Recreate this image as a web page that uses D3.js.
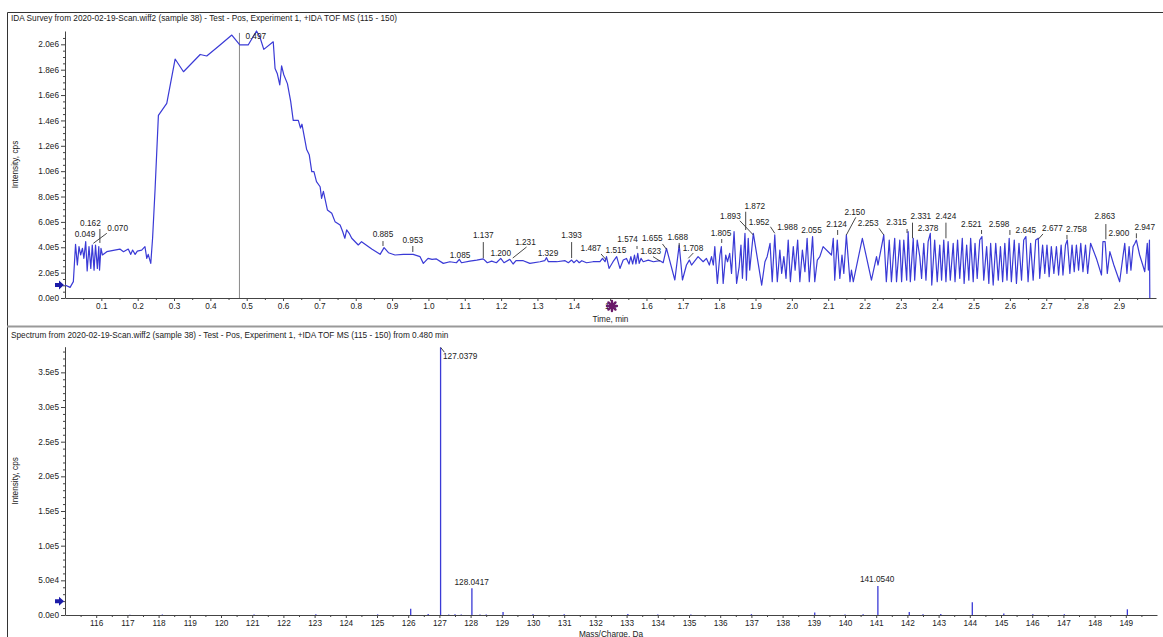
<!DOCTYPE html>
<html><head><meta charset="utf-8">
<script src="https://cdn.jsdelivr.net/npm/d3@7"></script>
<style>
body{margin:0;background:#fff;}
svg text{font-family:"Liberation Sans",Arial,sans-serif;}
</style></head>
<body>
<svg id="chart" width="1163" height="637"></svg>
<script>
// ---------- DATA ----------
const ticTitle = "IDA Survey from 2020-02-19-Scan.wiff2 (sample 38) - Test - Pos, Experiment 1, +IDA TOF MS (115 - 150)";
const specTitle = "Spectrum from 2020-02-19-Scan.wiff2 (sample 38) - Test - Pos, Experiment 1, +IDA TOF MS (115 - 150) from 0.480 min";

const timeMin = [0.000,0.014,0.023,0.029,0.034,0.0385,0.043,0.048,0.052,0.057,0.061,0.066,0.071,0.075,0.080,0.084,0.089,0.093,0.095,0.099,
0.103,0.115,0.151,0.161,0.174,0.181,0.186,0.193,0.199,0.211,0.220,0.225,0.229,0.236,0.241,0.248,0.257,0.280,0.303,0.326,
0.372,0.390,0.425,0.459,0.481,0.504,0.527,0.536,0.547,0.573,0.578,0.584,0.591,0.596,0.602,0.612,0.621,0.628,0.642,0.648,
0.652,0.665,0.672,0.679,0.685,0.692,0.702,0.706,0.711,0.722,0.734,0.743,0.757,0.764,0.770,0.775,0.782,0.789,0.807,0.816,
0.844,0.867,0.878,0.890,0.908,0.931,0.958,0.977,0.986,0.999,1.010,1.022,1.041,1.059,1.077,1.085,1.091,1.114,1.133,1.151,
1.162,1.174,1.187,1.199,1.208,1.224,1.233,1.241,1.261,1.279,1.307,1.320,1.325,1.330,1.353,1.376,1.385,1.394,1.400,1.408,
1.415,1.422,1.435,1.453,1.472,1.479,1.486,1.490,1.497,1.508,1.518,1.527,1.536,1.545,1.552,1.557,1.562,1.567,1.571,1.576,
1.580,1.585,1.591,1.605,1.619,1.637,1.646,1.655,1.678,1.690,1.699,1.710,1.718,1.724,1.742,1.756,1.765,1.773,1.779,1.784,
1.788,1.795,1.802,1.806,1.811,1.818,1.823,1.829,1.834,1.841,1.848,1.855,1.860,1.864,1.871,1.875,1.880,1.884,1.894,1.917,
1.926,1.932,1.940,1.946,1.953,1.960,1.967,1.972,1.978,1.984,1.990,1.996,2.004,2.009,2.016,2.022,2.029,2.036,2.042,2.048,
2.057,2.063,2.070,2.077,2.086,2.109,2.114,2.118,2.125,2.132,2.138,2.143,2.150,2.160,2.164,2.169,2.194,2.219,2.233,2.237,
2.253,2.260,2.268,2.274,2.283,2.288,2.297,2.302,2.308,2.316,2.320,2.326,2.334,2.338,2.345,2.352,2.357,2.363,2.369,2.375,
2.381,2.385,2.393,2.400,2.407,2.412,2.418,2.424,2.430,2.436,2.444,2.449,2.456,2.462,2.469,2.474,2.481,2.487,2.492,2.499,
2.504,2.510,2.517,2.523,2.528,2.536,2.542,2.547,2.554,2.561,2.568,2.574,2.580,2.586,2.592,2.598,2.604,2.612,2.618,2.625,
2.632,2.638,2.644,2.650,2.657,2.664,2.671,2.678,2.682,2.690,2.696,2.702,2.708,2.714,2.721,2.728,2.734,2.741,2.746,2.753,
2.758,2.765,2.771,2.777,2.783,2.789,2.795,2.801,2.808,2.814,2.822,2.838,2.852,2.856,2.862,2.868,2.875,2.886,2.902,2.911,
2.916,2.922,2.928,2.933,2.939,2.944,2.948,2.957,2.967,2.971,2.978,2.981,2.984,2.985];

const ticIntensity = [1.02e5,0.84e5,1.29e5,4.23e5,2.60e5,4.05e5,3.39e5,3.92e5,3.13e5,4.44e5,2.13e5,4.05e5,2.33e5,4.18e5,2.20e5,4.18e5,2.33e5,4.05e5,2.20e5,3.92e5,
3.39e5,3.65e5,3.86e5,3.65e5,3.86e5,3.44e5,3.78e5,3.44e5,3.70e5,3.78e5,4.05e5,3.13e5,3.44e5,2.73e5,4.71e5,8.65e5,14.4e5,15.35e5,18.84e5,17.84e5,
19.2e5,19.08e5,19.9e5,20.73e5,19.95e5,19.95e5,21.05e5,20.6e5,19.6e5,20.2e5,18.1e5,17.7e5,16.8e5,18.3e5,17.6e5,16.9e5,15.5e5,14.0e5,14.0e5,13.4e5,
13.7e5,11.7e5,11.3e5,9.96e5,9.96e5,9.17e5,8.77e5,7.86e5,8.4e5,6.94e5,6.68e5,6.02e5,5.76e5,5.24e5,4.71e5,5.37e5,5.1e5,4.71e5,4.18e5,4.44e5,
3.86e5,3.44e5,3.97e5,3.57e5,3.39e5,3.44e5,3.44e5,3.26e5,2.73e5,3.13e5,3.05e5,3.08e5,2.73e5,2.86e5,2.78e5,3.05e5,2.78e5,2.91e5,2.99e5,3.08e5,
2.78e5,2.91e5,2.78e5,3.12e5,2.78e5,3.05e5,2.68e5,2.94e5,2.94e5,2.73e5,2.86e5,2.94e5,3.18e5,2.86e5,2.86e5,2.94e5,2.78e5,2.99e5,2.78e5,2.99e5,
2.78e5,2.94e5,2.78e5,2.86e5,2.86e5,3.12e5,2.86e5,3.26e5,2.33e5,2.86e5,3.26e5,2.33e5,2.99e5,3.12e5,2.68e5,3.26e5,2.68e5,3.39e5,2.68e5,3.52e5,
2.73e5,3.12e5,2.86e5,2.99e5,2.86e5,2.94e5,2.78e5,3.92e5,1.42e5,4.18e5,1.42e5,2.60e5,2.99e5,2.60e5,3.26e5,2.86e5,3.12e5,2.60e5,3.26e5,2.60e5,
4.05e5,1.15e5,3.39e5,4.05e5,1.15e5,3.39e5,2.86e5,3.52e5,1.94e5,5.23e5,1.15e5,2.46e5,4.18e5,1.55e5,5.10e5,1.41e5,4.71e5,2.20e5,5.10e5,1.02e5,
2.86e5,3.26e5,4.31e5,1.28e5,4.97e5,1.28e5,3.78e5,1.94e5,3.26e5,1.55e5,4.57e5,1.28e5,4.05e5,2.20e5,4.57e5,1.28e5,3.78e5,2.07e5,4.71e5,1.28e5,
4.84e5,1.28e5,2.99e5,3.26e5,4.05e5,3.39e5,4.71e5,1.41e5,4.57e5,1.55e5,3.39e5,1.94e5,4.97e5,1.28e5,2.20e5,1.28e5,4.71e5,1.41e5,3.26e5,2.60e5,
4.97e5,1.28e5,4.57e5,1.28e5,4.71e5,1.28e5,4.57e5,1.28e5,4.57e5,1.41e5,5.23e5,1.28e5,4.71e5,1.41e5,4.57e5,3.26e5,1.55e5,4.31e5,1.41e5,4.44e5,
5.10e5,1.02e5,4.57e5,1.28e5,4.18e5,1.41e5,4.57e5,1.28e5,4.44e5,1.41e5,4.31e5,1.28e5,4.57e5,1.55e5,4.71e5,1.15e5,4.18e5,1.41e5,4.71e5,1.28e5,
4.31e5,1.55e5,4.57e5,4.84e5,1.41e5,4.05e5,1.15e5,4.31e5,1.02e5,4.31e5,1.41e5,4.05e5,1.28e5,4.31e5,1.41e5,4.71e5,1.28e5,4.57e5,1.15e5,4.31e5,
1.41e5,4.57e5,4.84e5,1.28e5,4.31e5,1.41e5,4.57e5,4.71e5,1.55e5,4.18e5,1.94e5,4.18e5,1.68e5,4.05e5,1.94e5,4.05e5,1.81e5,4.18e5,1.81e5,4.18e5,
4.57e5,1.94e5,4.18e5,2.07e5,4.18e5,2.20e5,4.31e5,2.07e5,4.18e5,1.94e5,4.31e5,3.12e5,1.81e5,4.44e5,4.44e5,1.94e5,3.65e5,2.60e5,1.28e5,3.26e5,
4.31e5,1.94e5,4.05e5,2.20e5,4.05e5,4.31e5,4.57e5,3.39e5,2.46e5,2.07e5,4.31e5,2.20e5,4.57e5,0];

const timeTicks = [0.1,0.2,0.3,0.4,0.5,0.6,0.7,0.8,0.9,1.0,1.1,1.2,1.3,1.4,1.5,1.6,1.7,1.8,1.9,2.0,2.1,2.2,2.3,2.4,2.5,2.6,2.7,2.8,2.9];
const ticIntensityTicks = [0,2e5,4e5,6e5,8e5,1.0e6,1.2e6,1.4e6,1.6e6,1.8e6,2.0e6];
const ticCursorTime = 0.480;

// peak labels: [text, time, intensity] (label centre)
const peakLabels = [
["0.497",0.525,20.6e5],["0.162",0.070,5.89e5],["0.049",0.055,4.97e5],["0.070",0.145,5.44e5],["0.885",0.875,4.99e5],
["0.953",0.957,4.57e5],["1.085",1.087,3.39e5],["1.137",1.151,4.94e5],["1.200",1.199,3.47e5],["1.231",1.267,4.41e5],
["1.329",1.329,3.47e5],["1.393",1.394,4.89e5],["1.487",1.447,3.92e5],["1.515",1.516,3.78e5],["1.574",1.548,4.60e5],
["1.655",1.616,4.73e5],["1.623",1.612,3.65e5],["1.688",1.686,4.75e5],["1.708",1.728,3.89e5],["1.805",1.805,5.05e5],
["1.893",1.831,6.46e5],["1.872",1.898,7.20e5],["1.952",1.910,5.94e5],["1.988",1.988,5.57e5],["2.055",2.054,5.36e5],
["2.124",2.123,5.83e5],["2.150",2.173,6.76e5],["2.253",2.210,5.89e5],["2.315",2.288,5.94e5],["2.331",2.355,6.39e5],
["2.378",2.375,5.46e5],["2.424",2.424,6.39e5],["2.521",2.494,5.83e5],["2.598",2.570,5.83e5],["2.645",2.644,5.31e5],
["2.677",2.717,5.46e5],["2.758",2.783,5.42e5],["2.863",2.861,6.39e5],["2.900",2.900,5.05e5],["2.947",2.971,5.52e5]];
// vertical label ticks: [time, top, bottom]
const peakTicks = [[0.096,5.44e5,4.34e5],[0.875,4.49e5,4.10e5],[0.957,4.10e5,3.63e5],[1.151,4.41e5,3.15e5],[1.394,4.41e5,3.15e5],
[1.574,4.10e5,3.86e5],[1.690,4.34e5,3.94e5],[1.807,4.65e5,4.34e5],[1.873,6.80e5,5.36e5],[2.126,5.36e5,4.97e5],[2.317,5.44e5,5.12e5],
[2.332,5.94e5,4.71e5],[2.424,5.94e5,4.71e5],[2.522,5.36e5,5.05e5],[2.600,5.36e5,4.97e5],[2.757,4.97e5,4.63e5],[2.864,5.83e5,4.63e5],[2.948,5.10e5,4.71e5]];
// leader lines: [t1, v1, t2, v2]
const peakLeaders = [[0.115,5.10e5,0.078,4.31e5],[1.270,4.02e5,1.232,3.15e5],[1.475,3.47e5,1.488,3.05e5],[1.644,4.26e5,1.655,3.84e5],
[1.618,3.26e5,1.637,2.92e5],[1.729,3.55e5,1.715,3.13e5],[1.857,6.09e5,1.894,4.97e5],[1.941,5.62e5,1.953,5.10e5],
[2.176,6.36e5,2.150,4.97e5],[2.240,5.49e5,2.253,4.97e5],[2.691,5.05e5,2.678,4.63e5]];
const ticMarkerLevel = 1.02e5;
const ticAsteriskTime = 1.505;

// spectrum
const mzValues = [117.08,118.12,121.06,123.04,125.02,126.08,126.64,127.0379,127.3,127.5,127.7,128.0417,128.3,128.5,129.04,130.0,131.0,133.04,134.0,135.06,137.0,139.03,140.0,140.58,141.054,142.06,142.5,143.07,144.08,145.09,146.02,147.03,149.05];
const mzIntensity = [500,600,600,1000,800,9000,1500,3.86e5,900,1000,900,3.85e4,900,700,4500,1000,1000,1500,800,800,1200,3500,700,1000,4.2e4,4500,1000,1500,1.83e4,2000,1000,1000,8200];
const mzTicks = d3.range(116,150);
const specIntensityTicks = [0,5e4,1.0e5,1.5e5,2.0e5,2.5e5,3.0e5,3.5e5];
const specLabels = [["127.0379",127.115,3.735e5,"start"],["128.0417",128.035,4.72e4,"middle"],["141.0540",141.03,5.15e4,"middle"]];
const specLeaders = [[127.04,3.86e5,127.16,3.79e5]];
const specMarkerLevel = 2.0e4;

// ---------- DRAW ----------
const svg = d3.select("#chart");
const blue = "#3a3ad6", axisCol = "#444", txt = "#222";
const fs = 8.25;

const xT = d3.scaleLinear().domain([0, 3.002]).range([65, 1156]);
const yT = d3.scaleLinear().domain([0, 2.105e6]).range([298, 31]);
const xS = d3.scaleLinear().domain([115, 150]).range([65, 1157]);
const yS = d3.scaleLinear().domain([0, 3.87e5]).range([615, 346.7]);

function sci(v){ if(v===0) return "0.0e0"; const e=Math.floor(Math.log10(v)+1e-9); return (v/Math.pow(10,e)).toFixed(1)+"e"+e; }

// frames
svg.append("path").attr("d","M7.5,12.5H1163M7.5,12.5V637").attr("stroke","#333").attr("fill","none");
svg.append("line").attr("x1",7).attr("x2",1163).attr("y1",326.5).attr("y2",326.5).attr("stroke","#999").attr("stroke-width",2);

svg.append("text").attr("x",11).attr("y",18).attr("dominant-baseline","central").attr("font-size",fs).attr("fill",txt).text(ticTitle);
svg.append("text").attr("x",11).attr("y",335).attr("dominant-baseline","central").attr("font-size",fs).attr("fill",txt).text(specTitle);

function styleAxis(g){
  g.selectAll(".domain").attr("stroke",axisCol);
  g.selectAll(".tick line").attr("stroke",axisCol);
  g.selectAll(".tick text").attr("fill",txt).attr("font-size",fs).attr("font-family",'"Liberation Sans",Arial,sans-serif');
}

// ---- top panel ----
const gx1 = svg.append("g").attr("transform",`translate(0,${yT(0)})`)
  .call(d3.axisBottom(xT).tickValues(timeTicks).tickSize(3).tickSizeOuter(0).tickPadding(2).tickFormat(d=>d.toFixed(1)));
styleAxis(gx1);
const gx1m = svg.append("g").attr("transform",`translate(0,${yT(0)})`)
  .call(d3.axisBottom(xT).tickValues(timeTicks.map(t=>t-0.05).concat([2.95])).tickSize(2).tickSizeOuter(0).tickFormat(""));
styleAxis(gx1m); gx1m.select(".domain").remove();

const gy1 = svg.append("g").attr("transform",`translate(${xT(0)},0)`)
  .call(d3.axisLeft(yT).tickValues(ticIntensityTicks).tickSize(4).tickSizeOuter(0).tickPadding(2).tickFormat(sci));
styleAxis(gy1);
const minorTop = [];
ticIntensityTicks.forEach(v=>{ for(let k=1;k<4;k++){ const m=v+k*5e4; if(m<2.1e6) minorTop.push(m);} });
const gy1m = svg.append("g").attr("transform",`translate(${xT(0)},0)`)
  .call(d3.axisLeft(yT).tickValues(minorTop).tickSize(2).tickSizeOuter(0).tickFormat(""));
styleAxis(gy1m); gy1m.select(".domain").remove();

svg.append("text").attr("transform",`translate(15,${(yT(0)+yT(2.105e6))/2}) rotate(-90)`).attr("text-anchor","middle")
  .attr("dominant-baseline","central").attr("font-size",fs).attr("fill",txt).text("Intensity, cps");
svg.append("text").attr("x",(xT(0)+xT(3.002))/2).attr("y",319).attr("text-anchor","middle").attr("dominant-baseline","central")
  .attr("font-size",fs).attr("fill",txt).text("Time, min");

// cursor line
svg.append("line").attr("x1",xT(ticCursorTime)).attr("x2",xT(ticCursorTime)).attr("y1",yT(2.09e6)).attr("y2",yT(0))
  .attr("stroke","#8a8a8a").attr("stroke-width",1);

// trace
const ticData = timeMin.map((t,i)=>[t,ticIntensity[i]]);
svg.append("path").datum(ticData).attr("fill","none").attr("stroke",blue).attr("stroke-width",1.2).attr("stroke-linejoin","round")
  .attr("d",d3.line().x(d=>xT(d[0])).y(d=>yT(d[1])));

// annotations
const annT = svg.append("g").attr("stroke","#333").attr("stroke-width",0.9);
annT.selectAll("line.tk").data(peakTicks).join("line").attr("x1",d=>xT(d[0])).attr("x2",d=>xT(d[0])).attr("y1",d=>yT(d[1])).attr("y2",d=>yT(d[2]));
annT.selectAll("line.ld").data(peakLeaders).join("line").attr("x1",d=>xT(d[0])).attr("y1",d=>yT(d[1])).attr("x2",d=>xT(d[2])).attr("y2",d=>yT(d[3]));
svg.append("g").selectAll("text").data(peakLabels).join("text")
  .attr("x",d=>xT(d[1])).attr("y",d=>yT(d[2])).attr("text-anchor","middle").attr("dominant-baseline","central")
  .attr("font-size",fs).attr("fill",txt).text(d=>d[0]);

// markers
function arrow(g,x,y){
  g.append("path").attr("d",`M${x-5},${y-2}H${x-1}V${y-4.5}L${x+4},${y}L${x-1},${y+4.5}V${y+2}H${x-5}Z`).attr("fill","#1c1ca8");
}
arrow(svg, xT(0)-5, yT(ticMarkerLevel));
const ax = xT(ticAsteriskTime), ay = yT(0)+8;
const ast = svg.append("g").attr("stroke","#6a1a6a").attr("stroke-width",2.4).attr("stroke-linecap","round");
[0,45,90,135].forEach(a=>{ const r=5, rad=a*Math.PI/180;
  ast.append("line").attr("x1",ax-r*Math.cos(rad)).attr("y1",ay-r*Math.sin(rad)).attr("x2",ax+r*Math.cos(rad)).attr("y2",ay+r*Math.sin(rad)); });

// ---- bottom panel ----
const gx2 = svg.append("g").attr("transform",`translate(0,${yS(0)})`)
  .call(d3.axisBottom(xS).tickValues(mzTicks).tickSize(3).tickSizeOuter(0).tickPadding(2).tickFormat(d3.format("d")));
styleAxis(gx2);
const gx2m = svg.append("g").attr("transform",`translate(0,${yS(0)})`)
  .call(d3.axisBottom(xS).tickValues(d3.range(115.5,150,1)).tickSize(2).tickSizeOuter(0).tickFormat(""));
styleAxis(gx2m); gx2m.select(".domain").remove();
const gy2 = svg.append("g").attr("transform",`translate(${xS(115)},0)`)
  .call(d3.axisLeft(yS).tickValues(specIntensityTicks).tickSize(4).tickSizeOuter(0).tickPadding(2).tickFormat(sci));
styleAxis(gy2);
const minorBot = [];
specIntensityTicks.forEach(v=>{ for(let k=1;k<5;k++){ const m=v+k*1e4; if(m<3.87e5) minorBot.push(m);} });
const gy2m = svg.append("g").attr("transform",`translate(${xS(115)},0)`)
  .call(d3.axisLeft(yS).tickValues(minorBot).tickSize(2).tickSizeOuter(0).tickFormat(""));
styleAxis(gy2m); gy2m.select(".domain").remove();

svg.append("text").attr("transform",`translate(15,${(yS(0)+yS(3.87e5))/2}) rotate(-90)`).attr("text-anchor","middle")
  .attr("dominant-baseline","central").attr("font-size",fs).attr("fill",txt).text("Intensity, cps");
svg.append("text").attr("x",(xS(115)+xS(150))/2).attr("y",634).attr("text-anchor","middle").attr("dominant-baseline","central")
  .attr("font-size",fs).attr("fill",txt).text("Mass/Charge, Da");

svg.append("g").selectAll("line").data(mzValues.map((m,i)=>[m,mzIntensity[i]])).join("line")
  .attr("x1",d=>xS(d[0])).attr("x2",d=>xS(d[0])).attr("y1",yS(0)).attr("y2",d=>yS(d[1]))
  .attr("stroke",blue).attr("stroke-width",1.3);
svg.append("g").attr("stroke","#333").attr("stroke-width",0.9).selectAll("line").data(specLeaders).join("line")
  .attr("x1",d=>xS(d[0])).attr("y1",d=>yS(d[1])).attr("x2",d=>xS(d[2])).attr("y2",d=>yS(d[3]));
svg.append("g").selectAll("text").data(specLabels).join("text")
  .attr("x",d=>xS(d[1])).attr("y",d=>yS(d[2])).attr("text-anchor",d=>d[3]).attr("dominant-baseline","central")
  .attr("font-size",fs).attr("fill",txt).text(d=>d[0]);
arrow(svg, xS(115)-5, yS(specMarkerLevel));
</script>
</body></html>
